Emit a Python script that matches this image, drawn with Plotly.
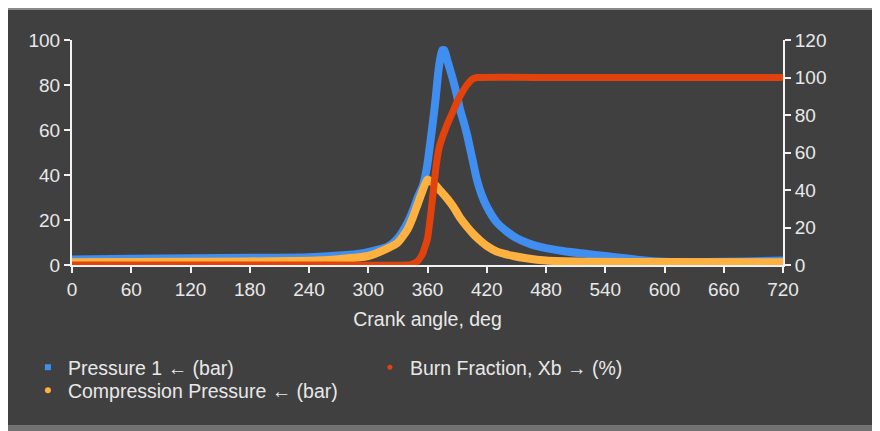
import plotly.graph_objects as go

# Crank angle (deg) and series values
p1_angle = [0, 60, 120, 180, 240, 270, 295, 310, 320, 330, 340, 345, 350, 355, 357, 360, 363, 365, 368,
            371, 373, 375, 377, 380, 386, 390, 393, 397, 400, 405, 410, 415, 420, 430, 440, 450, 460,
            470, 480, 500, 520, 540, 560, 580, 600, 640, 680, 720]
p1_bar = [2.5, 2.8, 3.0, 3.2, 3.5, 4.2, 5.3, 6.8, 8.2, 12, 19, 24, 30, 35, 38, 45, 55, 62, 73,
          86, 92, 95.5, 95.5, 91, 82, 75, 69, 63, 58, 48, 38, 31, 26, 19, 15, 12, 10,
          8.5, 7.5, 6, 5, 4, 3, 2, 1.5, 1.3, 1.6, 2.0]

cp_angle = [0, 120, 240, 270, 300, 320, 330, 340, 345, 350, 355, 360, 364, 368, 373, 380, 386, 393,
            400, 407, 413, 420, 430, 447, 460, 480, 520, 600, 720]
cp_bar = [1.2, 1.4, 1.9, 2.6, 4.0, 7.5, 10, 16, 21, 27, 33, 38, 37, 35.5, 33, 29.5, 26, 21,
          17, 13.5, 11, 8.5, 6, 4, 3, 2, 1.5, 1.3, 1.2]

xb_angle = [0, 120, 240, 340, 345, 350, 355, 360, 363, 366, 369, 372, 375, 380, 385, 390, 395, 400,
            405, 410, 500, 600, 720]
xb_pct = [0, 0, 0, 0, 0.5, 2, 6, 14, 26, 40, 54, 63, 68, 75, 81, 87, 92, 96,
          99, 100, 100, 100, 100]

x_ticks = [0, 60, 120, 180, 240, 300, 360, 420, 480, 540, 600, 660, 720]
left_ticks = [0, 20, 40, 60, 80, 100]
right_ticks = [0, 20, 40, 60, 80, 100, 120]

names = ["Pressure 1 \u2190 (bar)", "Compression Pressure \u2190 (bar)", "Burn Fraction, Xb \u2192 (%)"]
colors = ["#3f8ef0", "#ffb140", "#e2420c"]

FONT = "Liberation Sans, Arial, sans-serif"
TXT = "#e8e8e8"

fig = go.Figure()
fig.add_trace(go.Scatter(x=p1_angle, y=p1_bar, mode="lines", line=dict(color=colors[0], width=8, shape="spline", smoothing=0.6),
                         showlegend=False, yaxis="y"))
fig.add_trace(go.Scatter(x=cp_angle, y=cp_bar, mode="lines", line=dict(color=colors[1], width=8, shape="spline", smoothing=0.6),
                         showlegend=False, yaxis="y"))
fig.add_trace(go.Scatter(x=xb_angle, y=xb_pct, mode="lines", line=dict(color=colors[2], width=7, shape="spline", smoothing=0.4),
                         showlegend=False, yaxis="y2"))

# legend entries (marker only), each in its own legend box
fig.add_trace(go.Scatter(x=[None], y=[None], mode="markers", name=names[0], legend="legend",
                         marker=dict(color=colors[0], symbol="square", size=6)))
fig.add_trace(go.Scatter(x=[None], y=[None], mode="markers", name=names[1], legend="legend3",
                         marker=dict(color=colors[1], symbol="circle", size=6)))
fig.add_trace(go.Scatter(x=[None], y=[None], mode="markers", name=names[2], legend="legend2",
                         marker=dict(color=colors[2], symbol="circle", size=5)))

axis_common = dict(showgrid=False, zeroline=False, showline=True, linecolor="#f2f2f2", linewidth=2,
                   ticks="outside", ticklen=6, tickwidth=2, tickcolor="#f2f2f2",
                   tickfont=dict(family=FONT, size=19, color=TXT))

leg_common = dict(xanchor="left", yanchor="top", bgcolor="rgba(0,0,0,0)",
                  font=dict(family=FONT, size=19.5, color=TXT))

fig.update_layout(
    width=880, height=431,
    margin=dict(l=64, r=105, t=32, b=174),
    paper_bgcolor="#404040", plot_bgcolor="#404040",
    xaxis=dict(range=[0, 720], tickvals=x_ticks, ticktext=[str(v) for v in x_ticks],
               title=dict(text="Crank angle, deg", font=dict(family=FONT, size=19.5, color=TXT), standoff=14),
               **axis_common),
    yaxis=dict(range=[0, 100], tickvals=left_ticks, **axis_common),
    yaxis2=dict(range=[0, 120], tickvals=right_ticks, overlaying="y", side="right", **axis_common),
    legend=dict(x=-0.062, y=-0.369, **leg_common),
    legend2=dict(x=0.419, y=-0.369, **leg_common),
    legend3=dict(x=-0.062, y=-0.471, **leg_common),
    shapes=[
        dict(type="rect", xref="paper", yref="paper", x0=-0.2, x1=1.3, y0=1.1333, y1=1.2,
             fillcolor="#8a8a8a", line=dict(width=0), layer="below"),
        dict(type="rect", xref="paper", yref="paper", x0=-0.2, x1=1.3, y0=-0.9, y1=-0.7111,
             fillcolor="#727272", line=dict(width=0), layer="below"),
    ],
)

fig.write_html("out.html")
